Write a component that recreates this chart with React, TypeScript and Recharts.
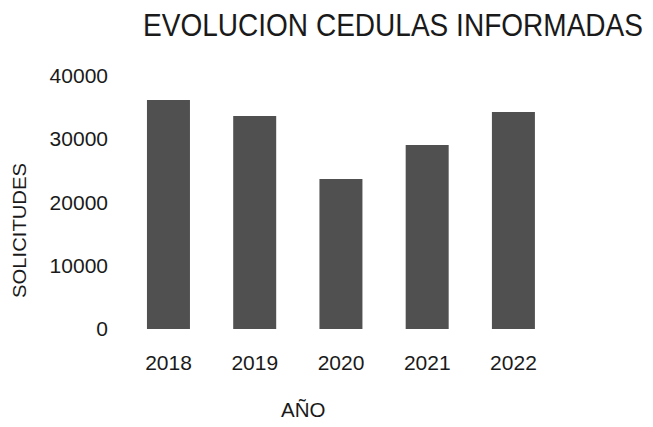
import React from "react";
import { BarChart, Bar, XAxis, YAxis } from "recharts";

const years = ["2018", "2019", "2020", "2021", "2022"];
const solicitudes = [36130, 33610, 23670, 29030, 34240];
const yTicks = [0, 10000, 20000, 30000, 40000];

const data = years.map((year, i) => ({ year, value: solicitudes[i] }));

const FONT = "'Liberation Sans', Arial, sans-serif";

const App = () => {
  return (
    <div style={{ position: "absolute", left: 0, top: 0, width: 653, height: 427, background: "#fff" }}>
      <BarChart
        width={653}
        height={427}
        data={data}
        margin={{ top: 75.5, right: 96.4, left: 65.4, bottom: 58 }}
        barCategoryGap="25%"
      >
        <XAxis
          dataKey="year"
          axisLine={false}
          tickLine={false}
          tickSize={0}
          tickMargin={26}
          height={40}
          tick={{ fontSize: 21, fill: "#1a1a1a", fontFamily: FONT }}
        />
        <YAxis
          domain={[0, 40000]}
          ticks={yTicks}
          axisLine={false}
          tickLine={false}
          tickSize={0}
          tickMargin={17.4}
          width={60}
          tick={{ fontSize: 21, fill: "#1a1a1a", fontFamily: FONT }}
        />
        <Bar dataKey="value" fill="#505050" isAnimationActive={false} />
      </BarChart>
      <svg
        width={653}
        height={427}
        style={{ position: "absolute", left: 0, top: 0, pointerEvents: "none" }}
      >
        {/* title: narrow font look, stretched vertically */}
        <text
          transform="translate(143,36) scale(1,1.14)"
          fontSize={28}
          fontFamily={FONT}
          fill="#1a1a1a"
          textLength={500}
          lengthAdjust="spacingAndGlyphs"
        >
          EVOLUCION CEDULAS INFORMADAS
        </text>
        <text
          transform="translate(26,230.5) rotate(-90)"
          textAnchor="middle"
          fontSize={18}
          fontFamily={FONT}
          fill="#1a1a1a"
          textLength={135}
          lengthAdjust="spacingAndGlyphs"
        >
          SOLICITUDES
        </text>
        <text x={303.3} y={417.3} textAnchor="middle" fontSize={20.5} fontFamily={FONT} fill="#1a1a1a">
          AÑO
        </text>
      </svg>
    </div>
  );
};

export default App;
